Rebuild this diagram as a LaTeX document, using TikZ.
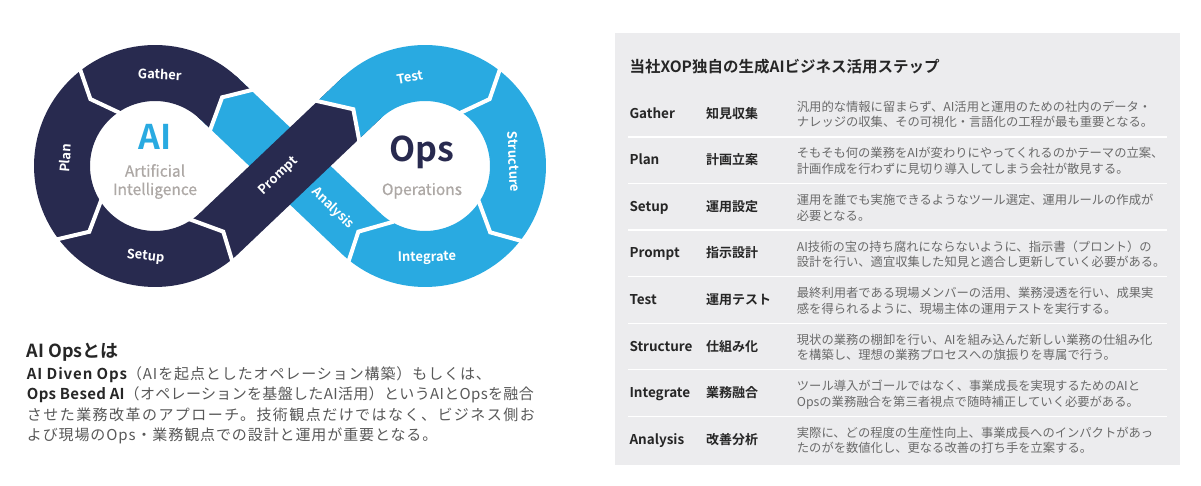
\documentclass[tikz,border=0pt]{standalone}
\usepackage{fontspec}
\setmainfont{Noto Sans CJK JP}[BoldFont={Noto Sans CJK JP Bold}]
\newfontfamily\medfont{Noto Sans CJK JP}[FakeBold=0.7]
\usepackage{tikz}
\definecolor{navy}{HTML}{282A4F}
\definecolor{skyblue}{HTML}{29AAE1}
\definecolor{paper}{HTML}{ECECEE}
\definecolor{ink}{HTML}{262626}
\definecolor{bodygray}{HTML}{585858}
\definecolor{descgray}{HTML}{6A6A6A}
\definecolor{softgray}{HTML}{ADA8A5}
\tikzset{
  ringlabel/.style={font=\fontsize{13}{13}\selectfont\bfseries, text=white, inner sep=0pt},
  bigword/.style={font=\fontsize{34}{34}\selectfont\bfseries, inner sep=0pt, anchor=base},
  subword/.style={font=\fontsize{15.5}{15.5}\medfont, text=softgray, inner sep=0pt, anchor=base},
  gapline/.style={draw=white, line width=4pt, line join=miter},
  divider/.style={draw=white, line width=1.4pt},
  rowen/.style={font=\fontsize{13.5}{13.5}\selectfont\bfseries, text=ink, anchor=base west, inner sep=0pt},
  rowjp/.style={font=\fontsize{13}{13}\selectfont\bfseries, text=ink, anchor=base west, inner sep=0pt},
  rowdesc/.style={font=\fontsize{12.3}{12.3}\selectfont, text=descgray, anchor=base west, inner sep=0pt},
  bodyline/.style={font=\fontsize{15}{15}\selectfont\addfontfeatures{LetterSpace=#1}, text=bodygray,
    anchor=base west, inner sep=0pt},
  bodyline/.default=6,
}
\begin{document}
\begin{tikzpicture}[x=1pt,y=1pt]
  \useasboundingbox (0,0) rectangle (1201,485);
  \coordinate (C) at (290,319);
  \coordinate (L) at (155,319);
  \coordinate (R) at (425,319);

  % infinity loop
  \fill[skyblue, shift={(C)}, rotate=-43.55] (-99,-28) rectangle (99,28);
  \fill[skyblue, shift={(R)}] (133.55:121) arc[start angle=133.55, end angle=-133.55, radius=121]
    -- (-133.55:65) arc[start angle=-133.55, end angle=133.55, radius=65] -- cycle;
  \fill[navy, shift={(L)}] (46.45:121) arc[start angle=46.45, end angle=313.55, radius=121]
    -- (313.55:65) arc[start angle=313.55, end angle=46.45, radius=65] -- cycle;
  \fill[navy, shift={(C)}, rotate=43.55] (-99,-28) rectangle (99,28);
  \fill[navy, shift={(C)}, rotate=-43.55] (-101,28) -- (-79,28) -- (-96.5,3) -- (-81.5,-28) -- (-101,-28) -- cycle;
  \fill[skyblue, shift={(C)}, rotate=43.55] (101,28) -- (63,28) -- (85,-2.5) -- (66.3,-28) -- (101,-28) -- cycle;

  % white cuts between the steps
  \draw[gapline, shift={(L)}] (127.5:124) -- (134:93) -- (122:61);
  \draw[gapline, shift={(L)}] (216.5:124) -- (225:93) -- (210.5:61);
  \draw[gapline, shift={(R)}] (52.5:124) -- (46:93) -- (58:61);
  \draw[gapline, shift={(R)}] (-37.5:124) -- (-45.5:93) -- (-31:61);
  \draw[gapline, shift={(C)}, rotate=43.55] (-109.7,31) -- (-93.6,-1.6) -- (-108.3,-31);
  \draw[gapline, shift={(C)}, rotate=43.55] (62.7,31) -- (85,-2.5) -- (66.6,-31);
  \draw[gapline, shift={(C)}, rotate=-43.55] (-78.7,31) -- (-96.5,3) -- (-81.8,-31);
  \draw[gapline, shift={(C)}, rotate=-43.55] (113.4,31) -- (94.8,-0.5) -- (109.2,-31);

  % step labels
  \begin{scope}[shift={(L)}]
    \node[ringlabel, rotate=-3] (gather) at (87:92) {Gather};
    \node[ringlabel, rotate=85] (plan) at (175:90) {Plan};
    \node[ringlabel, rotate=-6] (setup) at (264:91) {Setup};
  \end{scope}
  \begin{scope}[shift={(R)}]
    \node[ringlabel, rotate=9.7] (test) at (99.7:90) {Test};
    \node[ringlabel, rotate=-87.3] (structure) at (2.7:89) {Structure};
    \node[ringlabel, rotate=1.2] (integrate) at (-88.8:92) {Integrate};
  \end{scope}
  \node[ringlabel, rotate=43.55] (prompt) at (278.5,309) {Prompt};
  \node[ringlabel, rotate=-43.55] (analysis) at (333,276.7) {Analysis};

  % centres
  \node[bigword, text=skyblue] (ai) at (155,335) {AI};
  \node[subword] (artificial) at (155,308.3) {Artificial};
  \node[subword] (intelligence) at (155,290) {Intelligence};
  \node[bigword, text=navy] (ops) at (422,323.3) {Ops};
  \node[subword] (operations) at (422,290) {Operations};

  % AI Ops text
  \node[anchor=base west, inner sep=0pt, text=ink, font=\fontsize{18}{18}\selectfont\bfseries]
    (aboutttl) at (26.7,127.7) {AI Opsとは};
  \node[bodyline] (about1) at (26.7,106) {{\color{ink}\bfseries AI Diven Ops}（AIを起点としたオペレーション構築）もしくは、};
  \node[bodyline=2.3] (about2) at (26.7,85.3) {{\color{ink}\bfseries Ops Besed AI}（オペレーションを基盤したAI活用）というAIとOpsを融合};
  \node[bodyline=9.7] (about3) at (26.7,64.8) {させた業務改革のアプローチ。技術観点だけではなく、ビジネス側お};
  \node[bodyline] (about4) at (26.7,44.3) {よび現場のOps・業務観点での設計と運用が重要となる。};

  % step table
  \fill[paper] (615,20) rectangle (1180,452);
  \node[anchor=base west, inner sep=0pt, text=ink, font=\fontsize{15.5}{15.5}\selectfont\bfseries]
    (tabttl) at (629.3,412.1) {当社XOP独自の生成AIビジネス活用ステップ};
  \foreach \i in {1,...,7} {
    \draw[divider] (628,348-46.55*\i+46.55) -- (1166.7,348-46.55*\i+46.55);
  }
  \foreach \en/\jp/\la/\lb [count=\i] in {
    Gather/知見収集/汎用的な情報に留まらず、AI活用と運用のための社内のデータ・/ナレッジの収集、その可視化・言語化の工程が最も重要となる。,
    Plan/計画立案/そもそも何の業務をAIが変わりにやってくれるのかテーマの立案、/計画作成を行わずに見切り導入してしまう会社が散見する。,
    Setup/運用設定/運用を誰でも実施できるようなツール選定、運用ルールの作成が/必要となる。,
    Prompt/指示設計/AI技術の宝の持ち腐れにならないように、指示書（プロント）の/設計を行い、適宜収集した知見と適合し更新していく必要がある。,
    Test/運用テスト/最終利用者である現場メンバーの活用、業務浸透を行い、成果実/感を得られるように、現場主体の運用テストを実行する。,
    Structure/仕組み化/現状の業務の棚卸を行い、AIを組み込んだ新しい業務の仕組み化/を構築し、理想の業務プロセスへの旗振りを専属で行う。,
    Integrate/業務融合/ツール導入がゴールではなく、事業成長を実現するためのAIと/Opsの業務融合を第三者視点で随時補正していく必要がある。,
    Analysis/改善分析/実際に、どの程度の生産性向上、事業成長へのインパクトがあっ/たのがを数値化し、更なる改善の打ち手を立案する。} {
    \pgfmathsetmacro{\yb}{366.7-46.55*(\i-1)}
    \node[rowen] (en\i) at (629.3,\yb) {\en};
    \node[rowjp] (jp\i) at (706,\yb) {\jp};
    \node[rowdesc] (da\i) at (796.7,\yb+6.9) {\la};
    \node[rowdesc] (db\i) at (796.7,\yb-8.7) {\lb};
  }
\end{tikzpicture}
\end{document}
